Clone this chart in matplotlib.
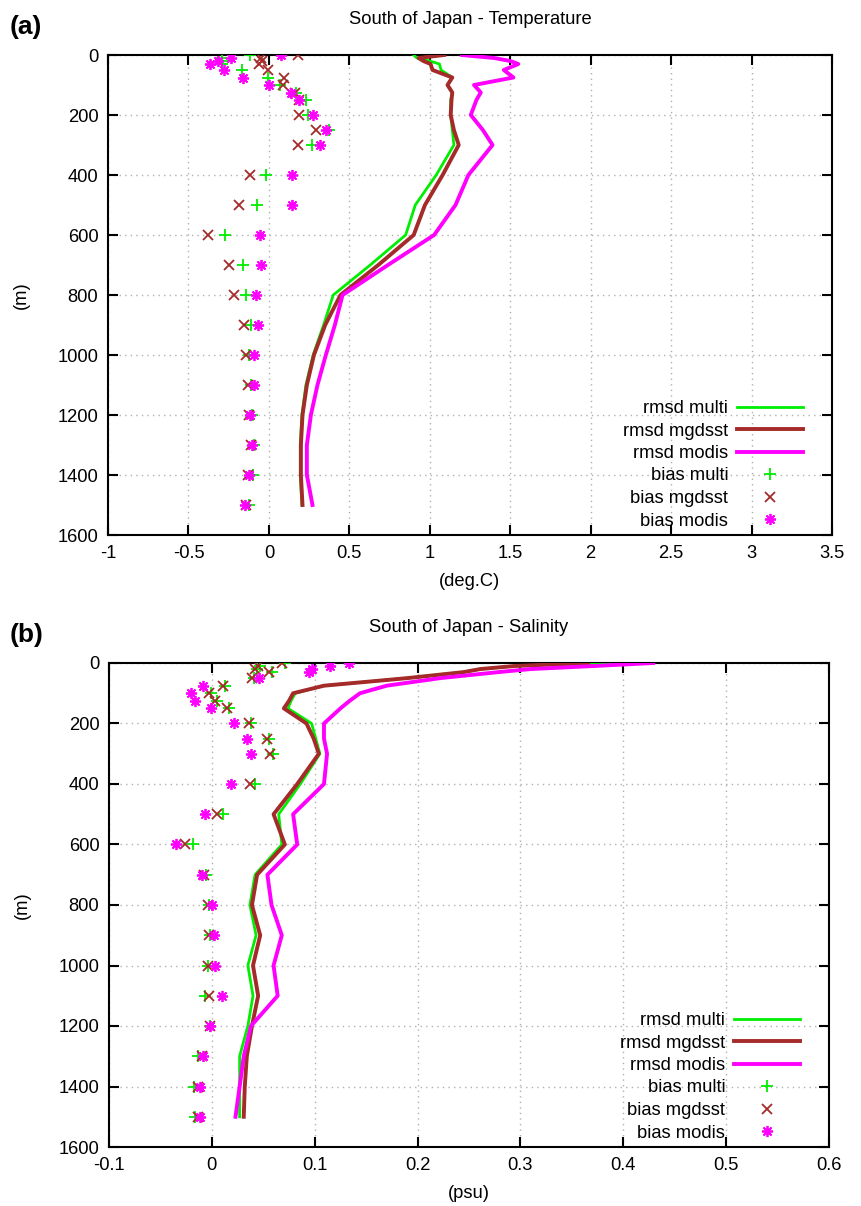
import matplotlib
matplotlib.use("Agg")
import matplotlib.pyplot as plt

plt.rcParams['font.family'] = ['Liberation Sans', 'DejaVu Sans']

# standard depth levels (m)
depths = [0, 10, 20, 30, 50, 75, 100, 125, 150, 200, 250, 300, 400, 500,
          600, 700, 800, 900, 1000, 1100, 1200, 1300, 1400, 1500]

# (a) temperature, deg.C
t_rmsd_multi = [0.90, 0.92, 1.00, 1.06, 1.07, 1.14, 1.11, 1.14, 1.13, 1.13, 1.14, 1.15,
                1.04, 0.91, 0.85, 0.63, 0.40, 0.34, 0.275, 0.23, 0.205, 0.195, 0.195, 0.205]
t_rmsd_mgdsst = [1.09, 0.93, 0.96, 1.005, 1.017, 1.14, 1.11, 1.14, 1.135, 1.13, 1.15, 1.18,
                 1.08, 0.97, 0.90, 0.68, 0.445, 0.35, 0.28, 0.236, 0.209, 0.199, 0.199, 0.209]
t_rmsd_modis = [1.20, 1.40, 1.50, 1.55, 1.46, 1.52, 1.275, 1.317, 1.29, 1.255, 1.33, 1.39,
                1.24, 1.16, 1.027, 0.74, 0.458, 0.41, 0.354, 0.302, 0.261, 0.236, 0.236, 0.271]
t_bias_multi = [-0.116, -0.29, -0.29, -0.29, -0.17, -0.004, 0.07, 0.17, 0.23, 0.246, 0.375, 0.27,
                -0.019, -0.075, -0.27, -0.16, -0.143, -0.112, -0.122, -0.112, -0.106, -0.091, -0.101, -0.126]
t_bias_mgdsst = [0.182, -0.05, -0.04, -0.06, -0.004, 0.091, 0.085, 0.16, 0.19, 0.188, 0.292, 0.182,
                 -0.118, -0.188, -0.377, -0.25, -0.215, -0.157, -0.143, -0.132, -0.122, -0.112, -0.132, -0.143]
t_bias_modis = [0.075, -0.236, -0.315, -0.364, -0.282, -0.16, 0.002, 0.137, 0.188, 0.275, 0.358, 0.319,
                0.143, 0.143, -0.056, -0.05, -0.081, -0.066, -0.091, -0.095, -0.118, -0.106, -0.126, -0.149]

# (b) salinity, psu
s_rmsd_multi = [0.39, 0.294, 0.261, 0.245, 0.19, 0.109, 0.081, 0.077, 0.074, 0.097, 0.101, 0.105,
                0.086, 0.065, 0.068, 0.042, 0.037, 0.043, 0.035, 0.040, 0.035, 0.027, 0.027, 0.027]
s_rmsd_mgdsst = [0.366, 0.294, 0.261, 0.245, 0.19, 0.109, 0.079, 0.075, 0.070, 0.092, 0.099, 0.104,
                 0.083, 0.060, 0.071, 0.044, 0.039, 0.047, 0.040, 0.045, 0.039, 0.034, 0.032, 0.031]
s_rmsd_modis = [0.429, 0.371, 0.31, 0.279, 0.222, 0.17, 0.144, 0.134, 0.125, 0.109, 0.109, 0.112,
                0.109, 0.079, 0.083, 0.054, 0.058, 0.068, 0.060, 0.064, 0.038, 0.031, 0.027, 0.023]
s_bias_multi = [0.071, 0.047, 0.044, 0.058, 0.041, 0.013, -0.001, 0.005, 0.017, 0.038, 0.056, 0.059,
                0.042, 0.011, -0.018, -0.006, -0.003, -0.002, -0.004, -0.007, -0.002, -0.013, -0.017, -0.016]
s_bias_mgdsst = [0.068, 0.045, 0.042, 0.056, 0.039, 0.011, -0.003, 0.003, 0.015, 0.036, 0.054, 0.057,
                 0.037, 0.005, -0.026, -0.008, -0.004, -0.003, -0.004, -0.003, -0.002, -0.010, -0.013, -0.013]
s_bias_modis = [0.133, 0.115, 0.097, 0.094, 0.046, -0.009, -0.020, -0.016, -0.001, 0.022, 0.034, 0.038,
                0.019, -0.007, -0.035, -0.010, 0.000, 0.002, 0.003, 0.0095, -0.002, -0.009, -0.012, -0.012]

GREEN = '#00ee00'
BROWN = '#a52a2a'
MAGENTA = '#ff00ff'
ASTER = (8, 2, 0)
FS = 13.2


def draw(ax, rm, rg, rd, bm, bg, bd, xlim, xticks, xlabel, title, leg_x):
    ax.plot(rm, depths, color=GREEN, lw=2.0, label='rmsd multi', zorder=3)
    ax.plot(rg, depths, color=BROWN, lw=2.8, label='rmsd mgdsst', zorder=3)
    ax.plot(rd, depths, color=MAGENTA, lw=2.8, label='rmsd modis', zorder=3)
    ax.plot(bm, depths, ls='none', marker='+', ms=8, mew=1.3, color=GREEN, label='bias multi', zorder=4)
    ax.plot(bg, depths, ls='none', marker='x', ms=7, mew=1.3, color=BROWN, label='bias mgdsst', zorder=4)
    ax.plot(bd, depths, ls='none', marker=ASTER, ms=8, mew=1.3, color=MAGENTA, label='bias modis', zorder=4)
    ax.set_xlim(*xlim)
    ax.set_ylim(1600, 0)
    ax.set_xticks(xticks)
    ax.set_xticklabels(['%g' % v for v in xticks])
    ax.set_yticks(range(0, 1601, 200))
    ax.grid(True, color='#b0b0b0', ls=(0, (1, 3)), lw=1.0)
    ax.tick_params(direction='in', top=True, right=True, length=7, width=1.5,
                   labelsize=FS, pad=7)
    for s in ax.spines.values():
        s.set_linewidth(1.5)
    ax.set_xlabel(xlabel, fontsize=FS, labelpad=8)
    ax.set_ylabel('(m)', fontsize=FS, labelpad=20)
    ax.set_title(title, fontsize=FS, pad=22)
    ax.legend(loc='lower right', bbox_to_anchor=(leg_x, 0.0), frameon=False,
              markerfirst=False, fontsize=FS, handlelength=3.6, handletextpad=0.5,
              labelspacing=0.3, borderaxespad=0.0, borderpad=0.3)


fig = plt.figure(figsize=(8.62, 12.06), dpi=100)
axA = fig.add_axes([108 / 862, 1 - 535 / 1206, (832 - 108) / 862, (535 - 55) / 1206])
axB = fig.add_axes([109 / 862, 1 - 1147 / 1206, (829 - 109) / 862, (1147 - 663) / 1206])

draw(axA, t_rmsd_multi, t_rmsd_mgdsst, t_rmsd_modis, t_bias_multi, t_bias_mgdsst, t_bias_modis,
     (-1, 3.5), [-1, -0.5, 0, 0.5, 1, 1.5, 2, 2.5, 3, 3.5], '(deg.C)',
     'South of Japan - Temperature', 0.968)
draw(axB, s_rmsd_multi, s_rmsd_mgdsst, s_rmsd_modis, s_bias_multi, s_bias_mgdsst, s_bias_modis,
     (-0.1, 0.6), [-0.1, 0, 0.1, 0.2, 0.3, 0.4, 0.5, 0.6], '(psu)',
     'South of Japan - Salinity', 0.968)

fig.text(10 / 862, 1 - 27 / 1206, '(a)', fontsize=19, fontweight='bold', va='center')
fig.text(10 / 862, 1 - 635 / 1206, '(b)', fontsize=19, fontweight='bold', va='center')

fig.savefig('out.png', dpi=100)
